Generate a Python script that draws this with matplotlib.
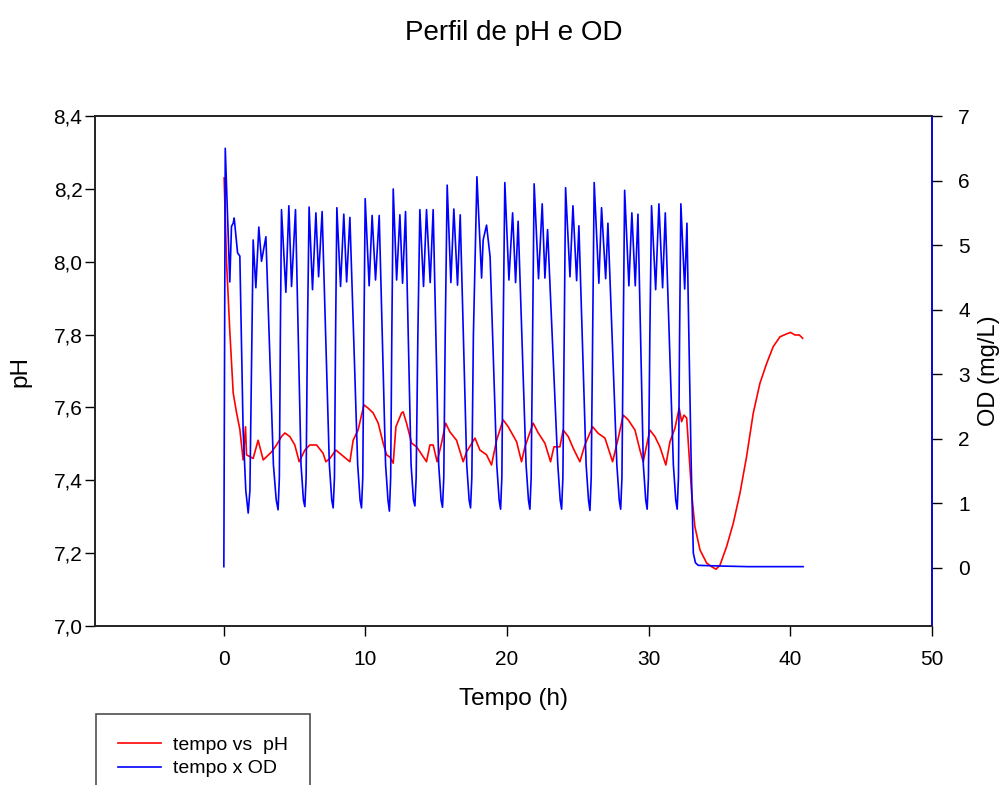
import matplotlib
matplotlib.use("Agg")
import matplotlib.pyplot as plt

plt.rcParams["font.family"] = ["Liberation Sans", "DejaVu Sans"]

# pH readings (time in h)
ph_time = [
    0.02, 0.19, 0.42, 0.66, 0.90, 1.13, 1.36, 1.53, 1.60, 2.07, 2.42, 2.78,
    3.37, 3.72, 4.07, 4.31, 4.66, 5.01, 5.32, 5.72, 6.07, 6.55, 7.01, 7.20,
    7.49, 7.91, 8.31, 8.90, 9.13, 9.48, 9.89, 10.19, 10.54, 10.90, 11.25,
    11.49, 11.72, 11.96, 12.15, 12.55, 12.66, 12.90, 13.26, 13.61, 14.31,
    14.55, 14.78, 15.06, 15.37, 15.66, 15.96, 16.43, 16.90, 17.14, 17.73,
    18.08, 18.55, 18.90, 19.26, 19.72, 20.08, 20.67, 21.02, 21.26, 21.84,
    22.20, 22.67, 23.07, 23.31, 23.73, 23.96, 24.32, 24.67, 25.14, 25.49,
    26.04, 26.43, 26.91, 27.45, 27.85, 28.20, 28.55, 29.03, 29.38, 29.61,
    30.08, 30.44, 30.79, 31.21, 31.50, 31.85, 32.15, 32.32, 32.49, 32.68,
    32.86, 33.03, 33.26, 33.62, 34.09, 34.44, 34.75, 35.03, 35.50, 35.97,
    36.44, 36.91, 37.38, 37.85, 38.33, 38.79, 39.27, 39.74, 40.02, 40.32,
    40.63, 40.87,
]
ph_value = [
    8.23, 8.00, 7.81, 7.64, 7.585, 7.54, 7.456, 7.547, 7.47, 7.46, 7.51, 7.456,
    7.478, 7.497, 7.52, 7.53, 7.52, 7.497, 7.451, 7.483, 7.497, 7.497, 7.474, 7.451,
    7.46, 7.483, 7.47, 7.451, 7.51, 7.538, 7.607, 7.598, 7.585, 7.557, 7.502,
    7.47, 7.464, 7.447, 7.547, 7.585, 7.588, 7.557, 7.502, 7.492, 7.451,
    7.497, 7.497, 7.451, 7.502, 7.557, 7.533, 7.51, 7.451, 7.478, 7.516,
    7.483, 7.47, 7.442, 7.51, 7.566, 7.547, 7.506, 7.451, 7.492, 7.557,
    7.53, 7.502, 7.451, 7.492, 7.492, 7.538, 7.52, 7.488, 7.451, 7.497,
    7.547, 7.529, 7.516, 7.451, 7.516, 7.579, 7.566, 7.538, 7.483, 7.451,
    7.538, 7.52, 7.492, 7.442, 7.506, 7.543, 7.598, 7.561, 7.579, 7.571,
    7.465, 7.365, 7.273, 7.209, 7.173, 7.163, 7.156, 7.167, 7.218, 7.282,
    7.364, 7.465, 7.584, 7.666, 7.721, 7.767, 7.794, 7.802, 7.806, 7.799,
    7.799, 7.79,
]

# dissolved oxygen readings (time in h, OD in mg/L)
od_time = [
    0.00, 0.10, 0.42, 0.54, 0.66, 0.73, 0.97, 1.13, 1.36, 1.55, 1.72, 1.84, 1.96,
    2.07, 2.26, 2.47, 2.66, 2.97, 3.50, 3.70, 3.83, 3.92, 3.99,
    4.07, 4.38, 4.59, 4.78, 5.06, 5.45, 5.62, 5.72, 5.81, 5.90,
    6.02, 6.26, 6.50, 6.69, 6.94, 7.45, 7.62, 7.72, 7.81, 7.89,
    7.98, 8.24, 8.47, 8.67, 8.90, 9.45, 9.62, 9.72, 9.81, 9.89,
    9.98, 10.26, 10.47, 10.71, 10.97, 11.42, 11.59, 11.69, 11.78, 11.86,
    11.96, 12.20, 12.43, 12.62, 12.83, 13.22, 13.39, 13.49, 13.58, 13.70,
    13.84, 14.10, 14.31, 14.57, 14.78, 15.17, 15.34, 15.44, 15.53, 15.63,
    15.77, 16.03, 16.24, 16.50, 16.69, 17.15, 17.32, 17.42, 17.51, 17.62,
    17.87, 18.20, 18.31, 18.55, 18.80, 19.27, 19.44, 19.54, 19.63, 19.72,
    19.84, 20.13, 20.39, 20.60, 20.78, 21.34, 21.51, 21.61, 21.70, 21.80,
    21.91, 22.22, 22.48, 22.67, 22.86, 23.58, 23.75, 23.85, 23.94, 24.03,
    24.13, 24.44, 24.65, 24.91, 25.07, 25.58, 25.75, 25.85, 25.94, 26.04,
    26.15, 26.48, 26.67, 26.96, 27.12, 27.75, 27.92, 28.02, 28.11, 28.20,
    28.30, 28.60, 28.81, 29.05, 29.24, 29.62, 29.79, 29.89, 29.98, 30.08,
    30.20, 30.49, 30.72, 30.98, 31.17, 31.74, 31.91, 32.01, 32.10, 32.18,
    32.27, 32.54, 32.70, 32.79, 33.00, 33.15, 33.30, 33.50, 35.0, 37.0, 39.0, 40.9,
]
od_value = [
    0.02, 6.50, 4.43, 5.29, 5.34, 5.42, 4.88, 4.83, 2.14, 1.20, 0.85, 1.20, 3.17,
    5.08, 4.34, 5.28, 4.75, 5.13, 1.60, 1.05, 0.90, 1.40, 3.60,
    5.55, 4.27, 5.61, 4.36, 5.55, 1.60, 1.05, 0.95, 1.40, 3.60,
    5.59, 4.31, 5.50, 4.51, 5.52, 1.60, 1.05, 0.93, 1.40, 3.60,
    5.58, 4.36, 5.48, 4.43, 5.43, 1.60, 1.05, 0.93, 1.40, 3.60,
    5.72, 4.37, 5.46, 4.46, 5.46, 1.60, 1.05, 0.88, 1.40, 3.60,
    5.87, 4.46, 5.47, 4.41, 5.52, 1.60, 1.05, 0.96, 1.40, 3.60,
    5.55, 4.36, 5.55, 4.42, 5.55, 1.60, 1.05, 0.94, 1.40, 3.60,
    5.93, 4.42, 5.56, 4.38, 5.47, 1.60, 1.05, 0.93, 1.40, 3.60,
    6.06, 4.49, 5.08, 5.31, 4.82, 1.60, 1.05, 0.91, 1.40, 3.60,
    5.97, 4.46, 5.50, 4.42, 5.37, 1.60, 1.05, 0.91, 1.40, 3.60,
    5.95, 4.48, 5.64, 4.49, 5.24, 1.60, 1.05, 0.91, 1.40, 3.60,
    5.89, 4.51, 5.61, 4.45, 5.30, 1.60, 1.05, 0.89, 1.40, 3.60,
    5.97, 4.41, 5.58, 4.48, 5.34, 1.60, 1.05, 0.91, 1.40, 3.60,
    5.85, 4.37, 5.50, 4.37, 5.48, 1.60, 1.05, 0.91, 1.40, 3.60,
    5.61, 4.31, 5.64, 4.34, 5.50, 1.60, 1.05, 0.91, 1.40, 3.60,
    5.64, 4.32, 5.34, 4.15, 1.60, 0.23, 0.08, 0.04, 0.03, 0.02, 0.02, 0.02,
]

ph_ticks = [7.0, 7.2, 7.4, 7.6, 7.8, 8.0, 8.2, 8.4]
od_ticks = [0, 1, 2, 3, 4, 5, 6, 7]
time_ticks = [0, 10, 20, 30, 40, 50]

fig = plt.figure(figsize=(10.06, 7.85), dpi=100)
ax = fig.add_axes([0.0944, 0.2025, 0.832, 0.6497])
ax2 = ax.twinx()

l1, = ax.plot(ph_time, ph_value, color="#ff0000", linewidth=1.2, label="tempo vs  pH")
l2, = ax2.plot(od_time, od_value, color="#0000ff", linewidth=1.2, label="tempo x OD")

ax.set_xlim(-9.1, 50)
ax.set_ylim(7.0, 8.4)
ax2.set_ylim(-0.9, 7)

ax.set_xticks(time_ticks)
ax.set_yticks(ph_ticks)
ax.set_yticklabels([f"{v:.1f}".replace(".", ",") for v in ph_ticks])
ax2.set_yticks(od_ticks)

for a in (ax, ax2):
    a.tick_params(direction="out", length=7, width=1, labelsize=15, color="black")
    for s in a.spines.values():
        s.set_linewidth(1.2)
        s.set_color("#222222")
ax2.spines["right"].set_color("#0000ff")
ax.tick_params(axis="y", pad=2)
ax.tick_params(axis="x", pad=10)
ax2.tick_params(axis="y", pad=12)

ax.set_xlabel("Tempo (h)", fontsize=17.5, labelpad=14)
ax.set_ylabel("pH", fontsize=17.5, labelpad=16)
ax2.set_ylabel("OD (mg/L)", fontsize=17, labelpad=6)

fig.text(0.511, 0.958, "Perfil de pH e OD", fontsize=20, ha="center", va="center")

leg = fig.legend(
    handles=[l1, l2],
    loc="upper left",
    bbox_to_anchor=(0.0954, 0.0904),
    borderaxespad=0,
    fontsize=14,
    frameon=True,
    fancybox=False,
    edgecolor="#222222",
    handlelength=2.2,
    handletextpad=0.6,
    borderpad=1.15,
    labelspacing=0.3,
)
leg.get_frame().set_linewidth(1.2)

fig.savefig("out.png", dpi=100)
